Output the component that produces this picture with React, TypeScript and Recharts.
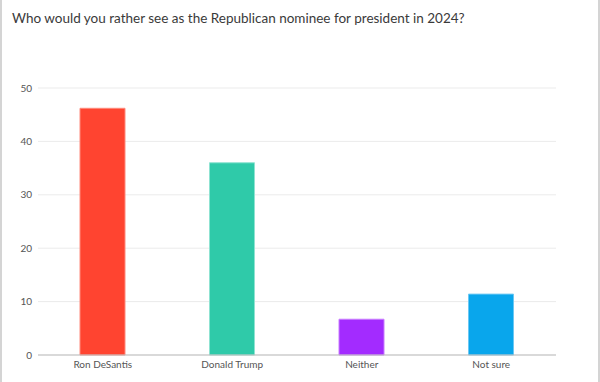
import React from 'react';
import { Bar, BarChart, CartesianGrid, Cell, XAxis, YAxis } from 'recharts';

const candidates = ['Ron DeSantis', 'Donald Trump', 'Neither', 'Not sure'];
const shares = [46.2, 36, 6.7, 11.4];
const colors = ['#ff4430', '#2fcaa9', '#a32bff', '#09a6ec'];
const strokes = ['#ff8a7c', '#8fe3d2', '#c87cff', '#6cc8f3'];
const yTicks = [0, 10, 20, 30, 40, 50];

const font = 'Lato, "Noto Sans", sans-serif';

const App: React.FC = () => {
  const data = candidates.map((name, i) => ({ name, value: shares[i] }));
  return (
    <div style={{ position: 'fixed', left: 0, top: 0, width: 600, height: 382, background: '#fff' }}>
      <div style={{
        position: 'absolute', left: 0, top: 0, width: 596, height: 382,
        borderLeft: '2px solid #d4d4d4', borderRight: '2px solid #d4d4d4',
      }} />
      <div style={{
        position: 'absolute', left: 12, top: 10, fontFamily: font, fontSize: 13.5, color: '#3a3a3a',
      }}>
        Who would you rather see as the Republican nominee for president in 2024?
      </div>
      <BarChart width={600} height={382} data={data}
        margin={{ top: 88, right: 44, left: 0, bottom: 7 }}>
        <CartesianGrid vertical={false} stroke="#ebebeb" />
        <XAxis dataKey="name" height={20} axisLine={{ stroke: '#bdbdbd' }} tickLine={false} tickSize={0} tickMargin={6}
          tick={{ fontSize: 10, fill: '#555', fontFamily: font }} interval={0} />
        <YAxis width={38} domain={[0, 50]} ticks={yTicks} axisLine={false} tickLine={false} tickSize={0}
          tickMargin={6} tick={{ fontSize: 10, fill: '#555', fontFamily: font }} />
        <Bar dataKey="value" barSize={45} isAnimationActive={false}>
          {data.map((d, i) => (
            <Cell key={d.name} fill={colors[i]} stroke={strokes[i]} strokeWidth={1} />
          ))}
        </Bar>
      </BarChart>
    </div>
  );
};

export default App;
